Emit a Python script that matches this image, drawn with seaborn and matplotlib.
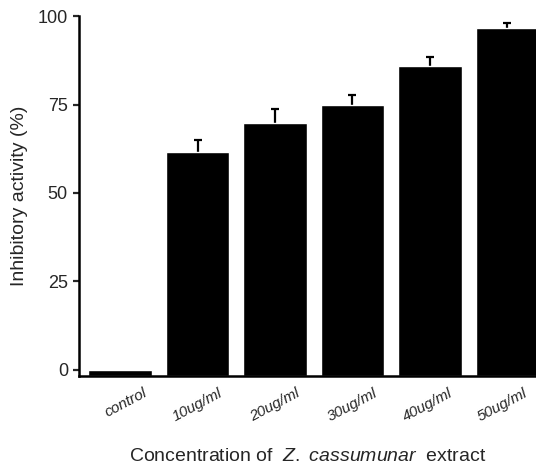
"""Inhibitory activity bar chart (Z. cassumunar extract)."""

import matplotlib

matplotlib.use("Agg")
import matplotlib.pyplot as plt  # noqa: E402
import matplotlib.transforms as mtransforms  # noqa: E402
import pandas as pd  # noqa: E402
import seaborn as sns  # noqa: E402

CONCENTRATIONS = ["control", "10ug/ml", "20ug/ml", "30ug/ml", "40ug/ml", "50ug/ml"]
INHIBITION = [0.0, 61.7, 69.9, 74.9, 86.0, 96.5]
SEM = [0.0, 3.4, 3.9, 2.9, 2.4, 1.4]
Y_TICKS = [0, 25, 50, 75, 100]

sns.set_style("ticks")
plt.rcParams["font.family"] = ["Liberation Sans", "DejaVu Sans"]
plt.rcParams["mathtext.fontset"] = "custom"
plt.rcParams["mathtext.rm"] = "Liberation Sans"
plt.rcParams["mathtext.it"] = "Liberation Sans:italic"

df = pd.DataFrame({"conc": CONCENTRATIONS, "inhib": INHIBITION, "sem": SEM})
df["pos"] = range(len(df))

fig = plt.figure(figsize=(5.36, 4.71), dpi=100)
ax = fig.add_axes([0.1474, 0.2017, 0.8526, 0.7643])

sns.barplot(
    data=df,
    x="conc",
    y="inhib",
    order=CONCENTRATIONS,
    color="black",
    saturation=1,
    width=0.82,
    errorbar=None,
    zorder=2,
    ax=ax,
)

y_low = -1.7
# bars start at the x-axis line, which sits a little below zero
for patch in ax.patches:
    patch.set_y(y_low)
    patch.set_height(patch.get_height() - y_low)

# upper error only: hide the cap that would sit on the bar top
err = df[df["sem"] > 0]
_, caps, _ = ax.errorbar(
    err["pos"],
    err["inhib"],
    yerr=[[0] * len(err), err["sem"]],
    fmt="none",
    ecolor="black",
    elinewidth=1.6,
    capsize=3,
    capthick=1.6,
    zorder=1,
)
caps[0].set_visible(False)

ax.set_ylim(y_low, 100)
ax.set_xlim(-0.53, 5.37)
ax.set_yticks(Y_TICKS)
ax.tick_params(axis="y", direction="out", length=4, width=1.6, labelsize=13, pad=4)
ax.tick_params(axis="x", length=0, pad=7)

# small horizontal nudges so the rotated labels sit like the original
nudges = [0.06, 0.0, 0.0, 0.0, -0.02, -0.05]
for lab, dx in zip(ax.get_xticklabels(), nudges):
    lab.set_rotation(28)
    lab.set_ha("center")
    lab.set_style("italic")
    lab.set_fontsize(11)
    shift = mtransforms.ScaledTranslation(dx, 0, fig.dpi_scale_trans)
    lab.set_transform(lab.get_transform() + shift)

sns.despine(ax=ax)
for side in ("left", "bottom"):
    ax.spines[side].set_linewidth(1.8)
    ax.spines[side].set_color("black")

ax.set_ylabel("Inhibitory activity (%)", fontsize=14)
ax.yaxis.set_label_coords(-0.112, 0.5)
ax.set_xlabel(r"Concentration of  $Z.\ cassumunar$  extract", fontsize=14)
ax.xaxis.set_label_coords(0.5, -0.2)

fig.savefig("out.png", dpi=100)
plt.close(fig)
